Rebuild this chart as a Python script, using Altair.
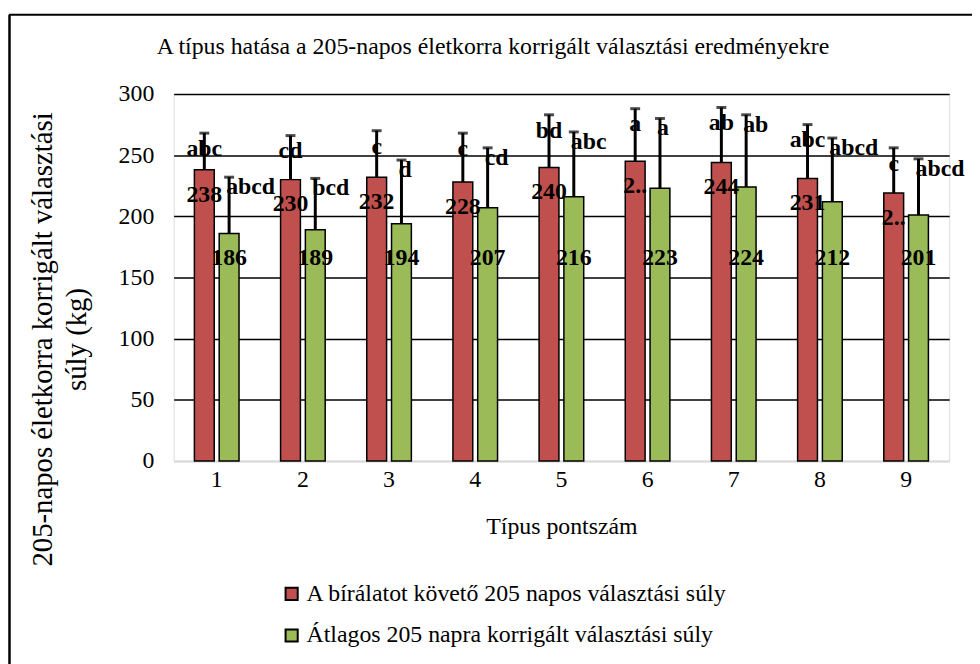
import altair as alt
import pandas as pd

tipus = ["1", "2", "3", "4", "5", "6", "7", "8", "9"]
series_names = ["A bírálatot követő 205 napos választási súly",
                "Átlagos 205 napra korrigált választási súly"]
red_values = [238, 230, 232, 228, 240, 245, 244, 231, 219]
green_values = [186, 189, 194, 207, 216, 223, 224, 212, 201]
red_err_top = [268, 266, 270, 268, 283, 288, 289, 275, 256]
green_err_top = [232, 231, 246, 256, 269, 280, 283, 264, 247]
red_letters = ["abc", "cd", "c", "c", "bd", "a", "ab", "abc", "c"]
green_letters = ["abcd", "bcd", "d", "cd", "abc", "a", "ab", "abcd", "abcd"]
red_labels = ["238", "230", "232", "228", "240", "2..", "244", "231", "2.."]
green_labels = ["186", "189", "194", "207", "216", "223", "224", "212", "201"]
chart_title = "A típus hatása a 205-napos életkorra korrigált választási eredményekre"
y_title = ["205-napos életkorra  korrigált választási", "súly (kg)"]
x_title = "Típus pontszám"

rows = []
for i, t in enumerate(tipus):
    rows.append(dict(tipus=t, series=series_names[0], value=red_values[i],
                     err=red_err_top[i], letter=red_letters[i], label=red_labels[i], s=0))
    rows.append(dict(tipus=t, series=series_names[1], value=green_values[i],
                     err=green_err_top[i], letter=green_letters[i], label=green_labels[i], s=1))
df = pd.DataFrame(rows)

FONT = "Liberation Serif"
RED = "#C0504D"
GREEN = "#9BBB59"

x_enc = alt.X("tipus:N", sort=tipus,
              scale=alt.Scale(paddingInner=0, paddingOuter=0),
              axis=alt.Axis(title=x_title, labelAngle=0, labelFont=FONT, labelFontSize=24,
                            labelColor="black", labelPadding=7, ticks=False,
                            domainColor="#d9d9d9", domainWidth=2,
                            titleFont=FONT, titleFontSize=24, titleFontWeight="normal",
                            titleColor="black", titleY=66, titleBaseline="middle"))
xoff_enc = alt.XOffset("series:N", sort=series_names,
                       scale=alt.Scale(paddingInner=0, paddingOuter=0.738))
y_scale = alt.Scale(domain=[0, 300], nice=False)

base = alt.Chart(df).encode(x=x_enc, xOffset=xoff_enc)

bars = base.mark_bar(width=20, stroke="black", strokeWidth=1.5).encode(
    y=alt.Y("value:Q", scale=y_scale,
            axis=alt.Axis(title=y_title, values=[0, 50, 100, 150, 200, 250, 300],
                          labelFont=FONT, labelFontSize=24, labelColor="black",
                          labelPadding=20, ticks=False, domain=False,
                          grid=True,
                          gridColor=alt.condition("datum.value === 0", alt.value("#d9d9d9"), alt.value("black")),
                          gridWidth=1.4,
                          titleFont=FONT, titleFontSize=29, titleFontWeight="normal",
                          titleColor="black", titleAngle=-90, titleX=-132, titleY=247,
                          titleAlign="center", titleBaseline="middle", titleLineHeight=34)),
    color=alt.Color("series:N", sort=series_names,
                    scale=alt.Scale(domain=series_names, range=[RED, GREEN]),
                    legend=alt.Legend(title=None, orient="none", legendX=107, legendY=492,
                                      direction="vertical", symbolType="square",
                                      symbolSize=150, symbolStrokeColor="black",
                                      symbolStrokeWidth=2, labelFont=FONT,
                                      labelFontSize=24, labelColor="black",
                                      labelLimit=700, rowPadding=18, labelOffset=3)),
)

err_line = base.mark_rule(color="black", strokeWidth=3).encode(
    y=alt.Y("value:Q", scale=y_scale), y2="err:Q")
err_cap = base.mark_tick(color="black", thickness=3, size=10, orient="horizontal").encode(
    y=alt.Y("err:Q", scale=y_scale))

red_val = base.transform_filter("datum.s == 0").mark_text(
    font=FONT, fontSize=24, fontWeight="bold", color="black", baseline="middle",
    align="center", dy=25).encode(y=alt.Y("value:Q", scale=y_scale), text="label:N")
green_val = base.transform_filter("datum.s == 1").mark_text(
    font=FONT, fontSize=24, fontWeight="bold", color="black", baseline="middle",
    align="center").encode(y=alt.datum(166, scale=y_scale), text="label:N")

red_let = base.transform_filter("datum.s == 0").mark_text(
    font=FONT, fontSize=24, fontWeight="bold", color="black", baseline="middle",
    align="center", dy=16).encode(y=alt.Y("err:Q", scale=y_scale), text="letter:N")
green_let = base.transform_filter("datum.s == 1").mark_text(
    font=FONT, fontSize=24, fontWeight="bold", color="black", baseline="middle",
    align="left", dx=-3, dy=10).encode(y=alt.Y("err:Q", scale=y_scale), text="letter:N")

one = alt.Chart(pd.DataFrame({"t": [chart_title]}))
title_txt = one.mark_text(font=FONT, fontSize=24, color="black", align="center",
                          baseline="middle").encode(
    x=alt.value(322), y=alt.value(-47), text="t:N")

frame_top = one.mark_rule(color="black", strokeWidth=2).encode(
    x=alt.value(-166), x2=alt.value(810), y=alt.value(-80))
frame_left = one.mark_rule(color="black", strokeWidth=2.5).encode(
    x=alt.value(-165.5), y=alt.value(-80), y2=alt.value(580))

chart = alt.layer(
    bars, err_line, err_cap, red_val, green_val, red_let, green_let,
    title_txt, frame_top, frame_left
).resolve_scale(y="shared").properties(
    width=782, height=370,
    autosize=alt.AutoSizeParams(type="none"),
    padding={"left": 167, "top": 84, "right": 23, "bottom": 202},
).configure_view(stroke=None).configure(background="white")

chart.save("out.html", embed_options={"renderer": "svg", "actions": False})
